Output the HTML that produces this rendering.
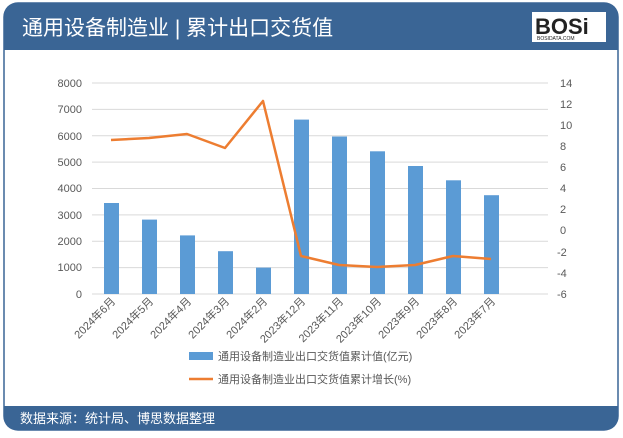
<!DOCTYPE html>
<html><head><meta charset="utf-8"><style>
body{margin:0;width:623px;height:433px;background:#fff;overflow:hidden;font-family:"Liberation Sans","Noto Sans CJK SC",sans-serif}
</style></head><body>
<svg width="623" height="433" viewBox="0 0 623 433" xmlns="http://www.w3.org/2000/svg" font-family="Liberation Sans, Noto Sans CJK SC, sans-serif">
<rect x="4" y="3" width="614" height="427" rx="14" fill="#fff" stroke="#3a6595" stroke-width="1.5"/>
<path d="M4 50 V17 Q4 3 18 3 H604 Q618 3 618 17 V50 Z" fill="#3a6595"/>
<path d="M4 406 V416 Q4 430 18 430 H604 Q618 430 618 416 V406 Z" fill="#3a6595"/>
<text x="22" y="35" font-size="21" fill="#fff">通用设备制造业 | 累计出口交货值</text>
<rect x="532" y="12" width="74" height="30" fill="#fff"/>
<text x="535" y="34" font-size="22" font-weight="bold" fill="#222">BOSi</text>
<text x="537" y="40" font-size="5" fill="#222">BOSIDATA.COM</text>
<text x="20" y="423" font-size="13" fill="#fff">数据来源：统计局、博思数据整理</text>
<g stroke="#d9d9d9" stroke-width="1">
<line x1="92" y1="83" x2="548" y2="83"/><line x1="92" y1="109.4" x2="548" y2="109.4"/>
<line x1="92" y1="135.8" x2="548" y2="135.8"/><line x1="92" y1="162.1" x2="548" y2="162.1"/>
<line x1="92" y1="188.5" x2="548" y2="188.5"/><line x1="92" y1="214.9" x2="548" y2="214.9"/>
<line x1="92" y1="241.3" x2="548" y2="241.3"/><line x1="92" y1="267.6" x2="548" y2="267.6"/>
<line x1="92" y1="294" x2="548" y2="294"/>
</g>
<g font-size="11" fill="#595959" text-anchor="end">
<text x="82" y="87">8000</text><text x="82" y="113">7000</text><text x="82" y="140">6000</text>
<text x="82" y="166">5000</text><text x="82" y="192">4000</text><text x="82" y="219">3000</text>
<text x="82" y="245">2000</text><text x="82" y="271">1000</text><text x="82" y="298">0</text>
</g>
<g font-size="11" fill="#595959">
<text x="560" y="87">14</text><text x="560" y="108">12</text><text x="560" y="129">10</text>
<text x="560" y="150">8</text><text x="560" y="171">6</text><text x="560" y="192">4</text>
<text x="560" y="213">2</text><text x="560" y="234">0</text><text x="557" y="256">-2</text>
<text x="557" y="277">-4</text><text x="557" y="298">-6</text>
</g>
<g fill="#5b9bd5">
<rect x="104" y="203" width="15" height="91"/>
<rect x="142" y="219.6" width="15" height="74.4"/>
<rect x="180" y="235.4" width="15" height="58.6"/>
<rect x="218" y="251.2" width="15" height="42.8"/>
<rect x="256" y="267.6" width="15" height="26.4"/>
<rect x="294" y="119.6" width="15" height="174.4"/>
<rect x="332" y="136.5" width="15" height="157.5"/>
<rect x="370" y="151.3" width="15" height="142.7"/>
<rect x="408" y="166" width="15" height="128"/>
<rect x="446" y="180.3" width="15" height="113.7"/>
<rect x="484" y="195.2" width="15" height="98.8"/>
</g>
<polyline fill="none" stroke="#ed7d31" stroke-width="2.5" stroke-linejoin="round" points="111,140 149,138 187,134 225,148 263,101 301,256 339,265 377,267 415,265 453,256 491,259"/>
<g font-size="11" fill="#595959" text-anchor="end">
<text transform="translate(116,302) rotate(-45)">2024年6月</text>
<text transform="translate(154,302) rotate(-45)">2024年5月</text>
<text transform="translate(192,302) rotate(-45)">2024年4月</text>
<text transform="translate(230,302) rotate(-45)">2024年3月</text>
<text transform="translate(268,302) rotate(-45)">2024年2月</text>
<text transform="translate(306,302) rotate(-45)">2023年12月</text>
<text transform="translate(344,302) rotate(-45)">2023年11月</text>
<text transform="translate(382,302) rotate(-45)">2023年10月</text>
<text transform="translate(420,302) rotate(-45)">2023年9月</text>
<text transform="translate(458,302) rotate(-45)">2023年8月</text>
<text transform="translate(496,302) rotate(-45)">2023年7月</text>
</g>
<rect x="189" y="352" width="24" height="8" fill="#5b9bd5"/>
<text x="218" y="360" font-size="11" fill="#595959">通用设备制造业出口交货值累计值(亿元)</text>
<line x1="189" y1="379" x2="213" y2="379" stroke="#ed7d31" stroke-width="2.5"/>
<text x="218" y="383" font-size="11" fill="#595959">通用设备制造业出口交货值累计增长(%)</text>
</svg>
</body></html>
